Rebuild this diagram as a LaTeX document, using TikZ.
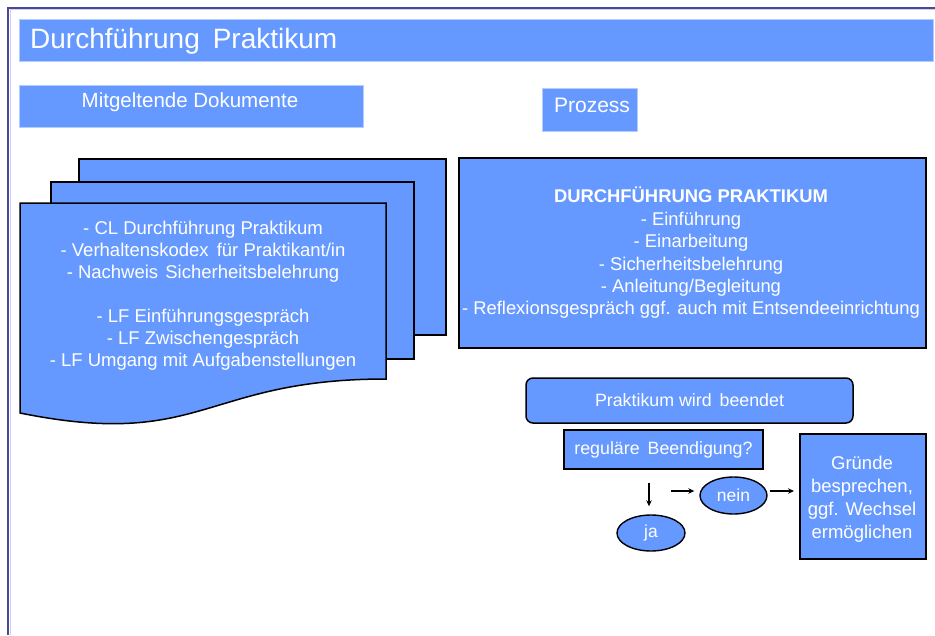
\documentclass[tikz,border=0pt]{standalone}
\usepackage{fontspec}
\setmainfont{Liberation Sans}
\usetikzlibrary{arrows.meta,shapes.geometric}

\definecolor{boxblue}{HTML}{6699FF}
\definecolor{framenavy}{RGB}{72,72,150}
\definecolor{framelight}{RGB}{205,205,240}
\definecolor{glow}{RGB}{180,205,255}

\begin{document}
\begin{tikzpicture}[x=1pt,y=-1pt,
  every node/.style={text=white, font=\fontsize{18.5}{22}\selectfont, inner sep=0pt},
  headbox/.style={fill=boxblue, draw=glow, line width=0.8pt},
  docbox/.style={fill=boxblue, draw=black, line width=1.5pt},
  flowbox/.style={fill=boxblue, draw=black, line width=1.5pt},
  choice/.style={ellipse, fill=boxblue, draw=black, line width=1.4pt},
  pointer/.style={-{Stealth[length=6pt,width=5.5pt]}, line width=1.2pt, draw=black},
]
\useasboundingbox (0,0) rectangle (935,635);

% page frame
\draw[framelight, line width=1pt] (10.5,635) -- (10.5,9.8) -- (935,9.8);
\draw[framenavy, line width=2pt] (8,635) -- (8,7.5) -- (935,7.5);

% headings
\node[headbox, anchor=north west, minimum width=914, minimum height=42] (title) at (19,19) {};
\node[anchor=west, font=\fontsize{28}{30}\selectfont] (titletext) at (30,41) {Durchführung\hspace{13pt}Praktikum};

\node[headbox, anchor=north west, minimum width=344, minimum height=42] (docshead) at (19,85) {};
\node[font=\fontsize{20.5}{24}\selectfont] (docsheadtext) at (190,102) {Mitgeltende Dokumente};

\node[headbox, anchor=north west, minimum width=95, minimum height=43] (prochead) at (542,88) {};
\node[font=\fontsize{21}{24}\selectfont] (procheadtext) at (592,105) {Prozess};

% stacked documents
\node[docbox, anchor=north west, minimum width=367, minimum height=176] (docback) at (78,158) {};
\node[docbox, anchor=north west, minimum width=363, minimum height=177] (docmid) at (50,181) {};
\draw[docbox] (20,203) -- (386,203) -- (386,379)
  .. controls (203,379) and (203,450) .. (20,413) -- cycle;
\node[align=center] (doctext) at (203,296) {%
  - CL Durchführung Praktikum\\
  - Verhaltenskodex\hspace{3pt} für Praktikant/in\\
  - Nachweis\hspace{2pt} Sicherheitsbelehrung\\[22pt]
  - LF Einführungsgespräch\\
  - LF Zwischengespräch\\
  - LF Umgang mit Aufgabenstellungen};

% process
\node[flowbox, anchor=north west, minimum width=467, minimum height=190] (proc) at (458,157) {};
\node[align=center, font=\fontsize{18.4}{22.4}\selectfont] (proctext) at (691,253) {%
  \textbf{DURCHFÜHRUNG PRAKTIKUM}\\
  - Einführung\\
  - Einarbeitung\\
  - Sicherheitsbelehrung\\
  - Anleitung/Begleitung\\
  - Reflexionsgespräch ggf. auch mit Entsendeeinrichtung};

\node[flowbox, rounded corners=7pt, minimum width=327, minimum height=45,
      font=\fontsize{17.8}{20}\selectfont] (ende) at (689.5,400.5) {Praktikum wird\hspace{3pt} beendet};

\node[flowbox, minimum width=199, minimum height=39,
      font=\fontsize{17.8}{20}\selectfont] (frage) at (663.5,449.5) {reguläre\hspace{3pt} Beendigung?};

\node[flowbox, minimum width=126, minimum height=125, align=center,
      font=\fontsize{18.5}{23}\selectfont] (gruende) at (863,496.5) {};
\node[align=center, font=\fontsize{18.5}{23}\selectfont] (gruendetext) at (862,499)
  {Gründe\\besprechen,\\ggf. Wechsel\\ermöglichen};

\node[choice, minimum width=67, minimum height=37, font=\fontsize{17.5}{20}\selectfont] (nein) at (733.5,495.5) {nein};
\node[choice, minimum width=68, minimum height=36, font=\fontsize{17.5}{20}\selectfont] (ja) at (651,533) {ja};

% arrows
\coordinate (downstart) at (649,483);
\coordinate (sidestart) at (671,491);
\coordinate (grundto) at (794,491);
\draw[pointer] (downstart) -- ([xshift=-2pt,yshift=8pt]ja.north);
\draw[pointer] (sidestart) -- ([xshift=-5pt,yshift=4.5pt]nein.west);
\draw[pointer] ([xshift=2pt,yshift=4.5pt]nein.east) -- (grundto);
\end{tikzpicture}
\end{document}
